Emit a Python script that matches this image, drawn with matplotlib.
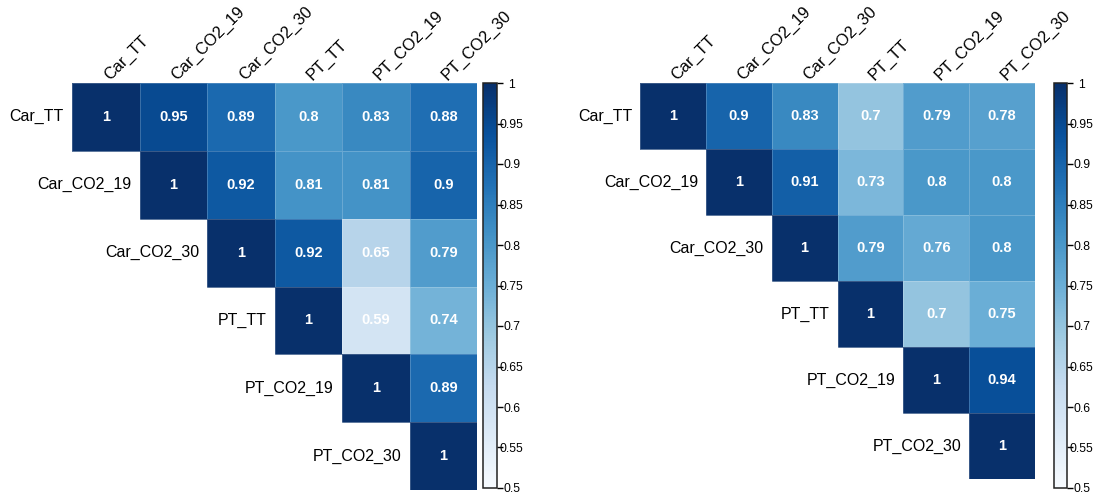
import numpy as np
import matplotlib
matplotlib.use("Agg")
import matplotlib.pyplot as plt
from matplotlib.colors import Normalize
from matplotlib.cm import ScalarMappable

plt.rcParams['font.family'] = ['Liberation Sans', 'DejaVu Sans']

variables = ["Car_TT", "Car_CO2_19", "Car_CO2_30", "PT_TT", "PT_CO2_19", "PT_CO2_30"]

# upper-triangle correlations, one list per row (starting at the diagonal)
left_rows = [
    [1, 0.95, 0.89, 0.80, 0.83, 0.88],
    [1, 0.92, 0.81, 0.81, 0.90],
    [1, 0.92, 0.65, 0.79],
    [1, 0.59, 0.74],
    [1, 0.89],
    [1],
]
right_rows = [
    [1, 0.90, 0.83, 0.70, 0.79, 0.78],
    [1, 0.91, 0.73, 0.80, 0.80],
    [1, 0.79, 0.76, 0.80],
    [1, 0.70, 0.75],
    [1, 0.94],
    [1],
]

cbar_ticks = [0.5, 0.55, 0.6, 0.65, 0.7, 0.75, 0.8, 0.85, 0.9, 0.95, 1.0]

cmap = plt.get_cmap("Blues")
norm = Normalize(vmin=0.5, vmax=1.0)

W, H = 1097, 499
fig = plt.figure(figsize=(W / 100, H / 100), dpi=100)


def frac(x0, y0, x1, y1):
    return [x0 / W, 1 - y1 / H, (x1 - x0) / W, (y1 - y0) / H]


def upper_matrix(rows):
    n = len(rows)
    m = np.full((n, n), np.nan)
    for i, r in enumerate(rows):
        for k, v in enumerate(r):
            m[i, i + k] = v
    return m


def draw_corr(ax, rows):
    m = upper_matrix(rows)
    n = m.shape[0]
    ax.pcolormesh(np.arange(n + 1) - 0.5, np.arange(n + 1) - 0.5,
                  np.ma.masked_invalid(m), cmap=cmap, norm=norm,
                  edgecolors=(1, 1, 1, 0.2), linewidth=0.5)
    ax.set_xlim(-0.5, n - 0.5)
    ax.set_ylim(n - 0.5, -0.5)
    ax.set_axis_off()
    for i in range(n):
        for j in range(i, n):
            ax.text(j, i, f"{m[i, j]:g}", ha="center", va="center",
                    color="white", fontsize=10.5, fontweight="bold")
        ax.text(i - 0.62, i, variables[i], ha="right", va="center",
                fontsize=11.5, color="black")
        ax.text(i + 0.06, -0.53, variables[i], ha="left", va="baseline",
                rotation=45, rotation_mode="anchor", fontsize=11.8,
                color="black", clip_on=False)


def draw_cbar(cax):
    sm = ScalarMappable(norm=norm, cmap=cmap)
    cb = fig.colorbar(sm, cax=cax)
    cb.outline.set_edgecolor("#222222")
    cb.outline.set_linewidth(1.1)
    cb.set_ticks(cbar_ticks)
    cb.set_ticklabels([f"{round(t, 2):g}" for t in cbar_ticks])
    cax.tick_params(axis="y", direction="out", length=4, width=1.0,
                    color="black", labelsize=8.8, pad=6.5)
    for lab in cax.get_yticklabels():
        lab.set_horizontalalignment("center")


ax1 = fig.add_axes(frac(72, 83, 477, 490))
draw_corr(ax1, left_rows)
cax1 = fig.add_axes(frac(483, 83, 497, 488))
draw_cbar(cax1)

ax2 = fig.add_axes(frac(640, 83, 1035, 479))
draw_corr(ax2, right_rows)
cax2 = fig.add_axes(frac(1054, 83, 1067, 488))
draw_cbar(cax2)

fig.savefig("out.png", dpi=100, facecolor="white")
